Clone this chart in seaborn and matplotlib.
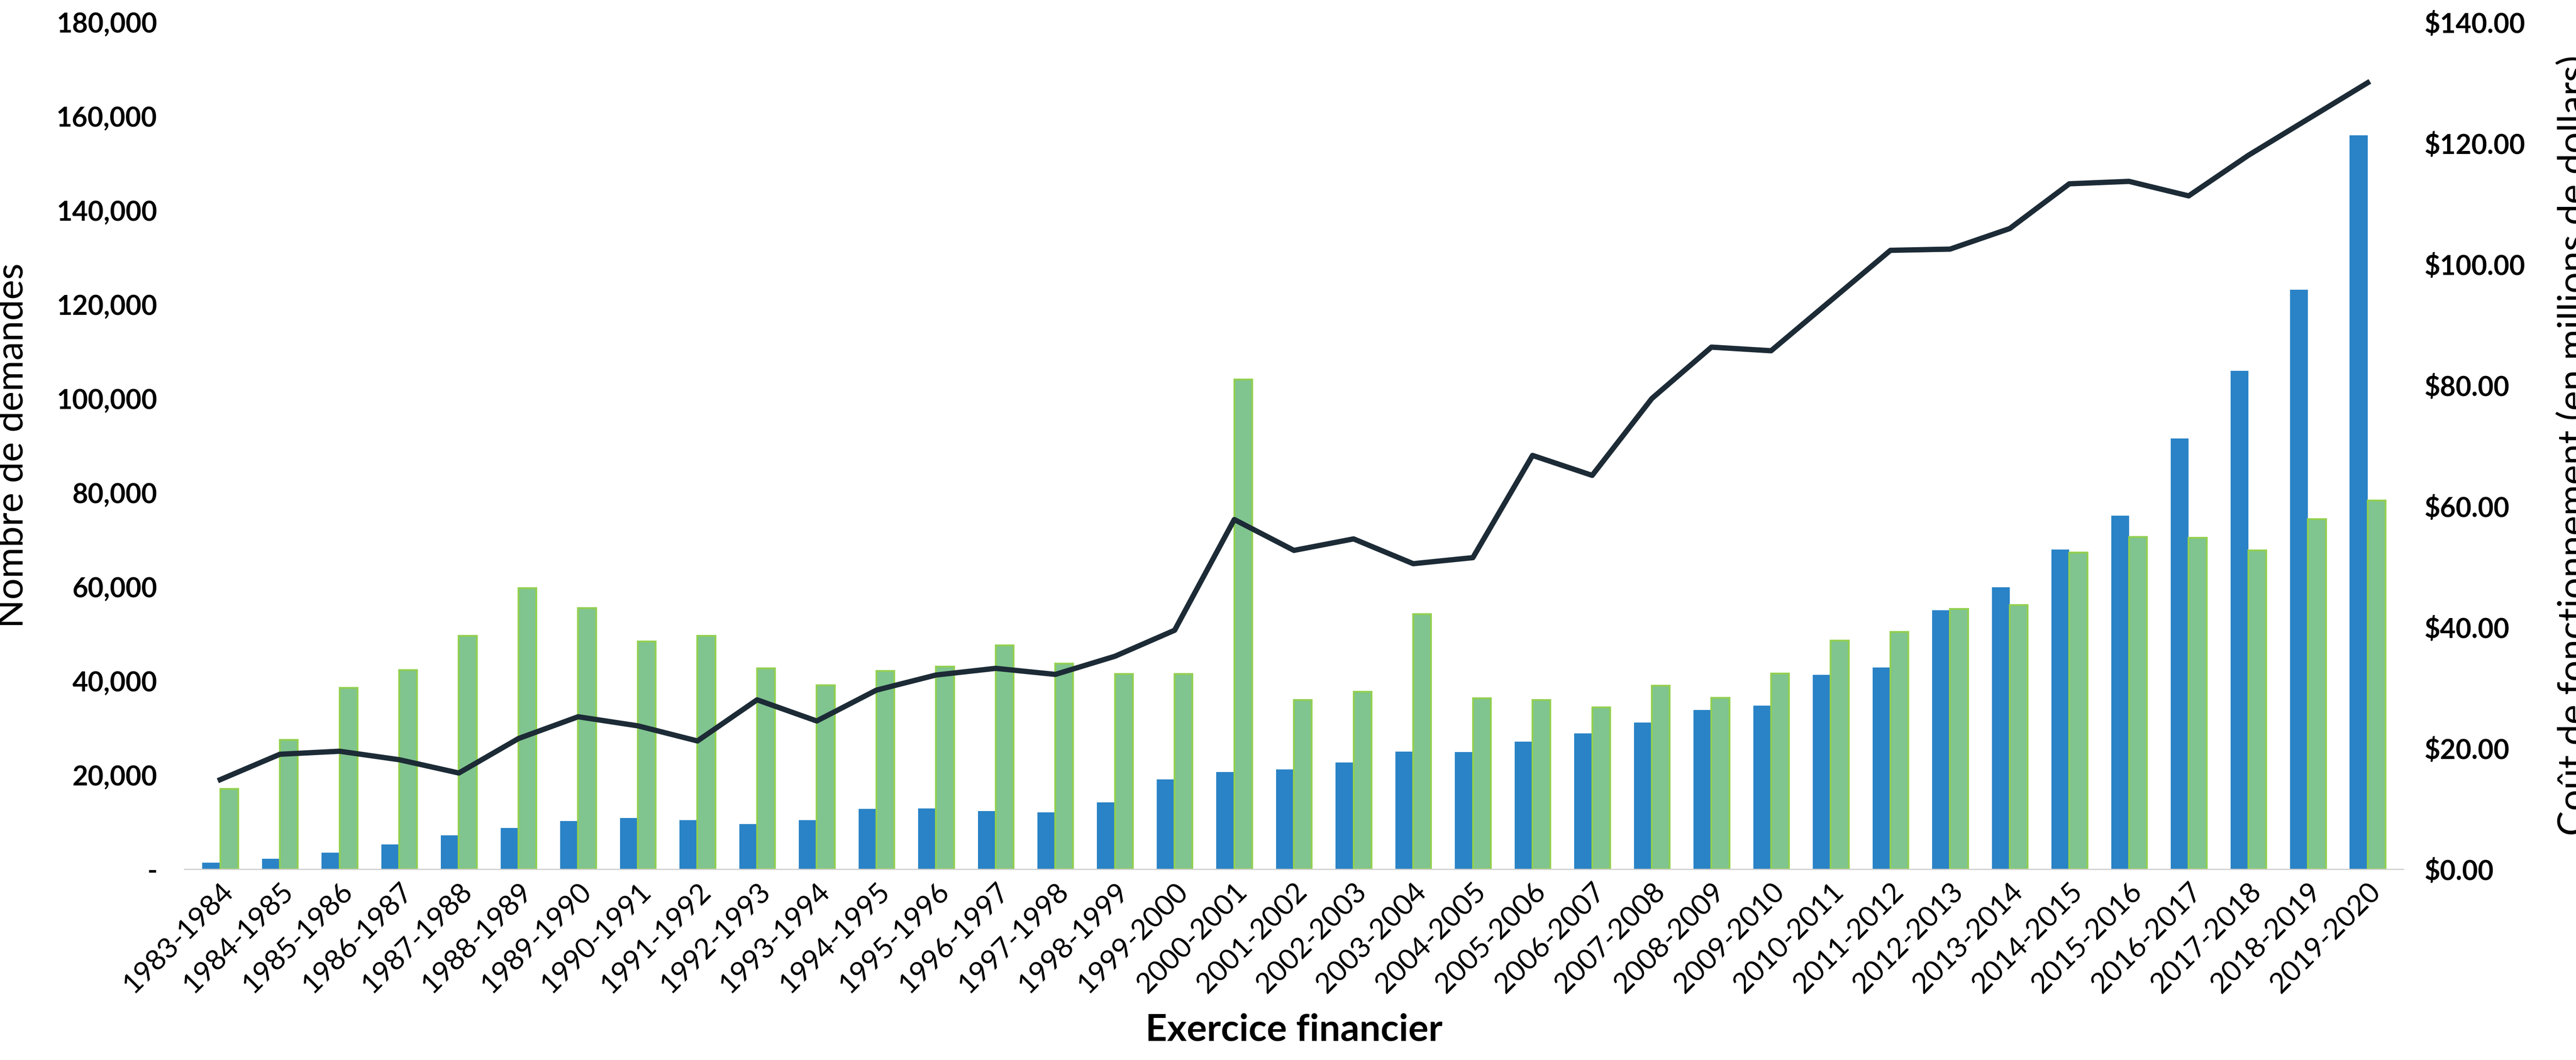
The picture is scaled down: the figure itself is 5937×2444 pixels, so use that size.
import numpy as np
import pandas as pd
import matplotlib
matplotlib.use("Agg")
import matplotlib.pyplot as plt
from matplotlib.ticker import FuncFormatter
import seaborn as sns

years = [f"{y}-{y + 1}" for y in range(1983, 2020)]

blue_vals = [1.4, 2.2, 3.5, 5.3, 7.2, 8.8, 10.2, 10.9, 10.4, 9.6, 10.4, 12.8, 12.9,
             12.4, 12.1, 14.2, 19.1, 20.7, 21.2, 22.7, 25.0, 24.9, 27.1, 28.9, 31.2,
             33.8, 34.8, 41.3, 42.9, 55.0, 59.9, 67.9, 75.1, 91.5, 105.9, 123.2, 156.0]
green_vals = [17.1, 27.5, 38.5, 42.3, 49.6, 59.7, 55.5, 48.4, 49.6, 42.7, 39.1, 42.1,
              43.1, 47.6, 43.7, 41.5, 41.5, 104.1, 36.0, 37.7, 54.2, 36.3, 36.0, 34.4,
              39.0, 36.4, 41.6, 48.6, 50.4, 55.3, 56.1, 67.3, 70.6, 70.4, 67.8, 74.4, 78.4]
cost_vals = [14.8, 19.0, 19.5, 18.1, 15.9, 21.6, 25.2, 23.7, 21.2, 28.0, 24.5, 29.6,
             32.1, 33.2, 32.2, 35.2, 39.5, 57.8, 52.7, 54.6, 50.5, 51.5, 68.4, 65.1,
             77.8, 86.3, 85.7, 94.0, 102.3, 102.5, 105.9, 113.3, 113.7, 111.3, 118.0,
             124.0, 130.0]

df = pd.DataFrame({
    "year": years * 2,
    "value": [v * 1000 for v in blue_vals] + [v * 1000 for v in green_vals],
    "series": ["bleu"] * len(years) + ["vert"] * len(years),
})

plt.rcParams["font.family"] = "Lato"
fig = plt.figure(figsize=(23.748, 9.776), dpi=250)
ax = fig.add_axes([0.0716, 0.180, 0.8614, 0.799])

sns.barplot(data=df, x="year", y="value", hue="series", ax=ax, width=0.6,
            palette={"bleu": "#2A83C6", "vert": "#80C48F"}, legend=False,
            saturation=1)
for p in ax.patches[len(years):]:
    p.set_edgecolor("#92D050")
    p.set_linewidth(1.2)

ax.set_ylim(0, 180000)
ax.set_yticks(np.arange(0, 180001, 20000))
ax.yaxis.set_major_formatter(FuncFormatter(lambda v, _: "-" if v == 0 else f"{int(v):,}"))
ax.set_xlim(-0.6, len(years) - 0.4)
ax.set_xlabel("Exercice financier", fontsize=25, fontweight="bold", labelpad=10)
ax.set_ylabel("Nombre de demandes", fontsize=25)
ax.yaxis.set_label_coords(-0.070, 0.5)
ax.tick_params(axis="y", length=0, labelsize=18, pad=18)
ax.tick_params(axis="x", length=0, labelsize=19, pad=6)
for lab in ax.get_yticklabels():
    lab.set_fontweight("bold")
plt.setp(ax.get_xticklabels(), rotation=45, ha="right", rotation_mode="anchor")
for s in ["top", "right", "left"]:
    ax.spines[s].set_visible(False)
ax.spines["bottom"].set_color("#D0D0D0")

ax2 = ax.twinx()
sns.lineplot(x=np.arange(len(years)), y=cost_vals, ax=ax2, color="#1C2B36", linewidth=3.5)
ax2.set_ylim(0, 140)
ax2.set_yticks(np.arange(0, 141, 20))
ax2.yaxis.set_major_formatter(FuncFormatter(lambda v, _: f"${v:.2f}"))
ax2.set_ylabel("Coût de fonctionnement (en millions de dollars)", fontsize=25)
ax2.yaxis.set_label_coords(1.069, 0.5)
ax2.tick_params(axis="y", length=0, labelsize=18, pad=14)
for lab in ax2.get_yticklabels():
    lab.set_fontweight("bold")
for s in ["top", "right", "left", "bottom"]:
    ax2.spines[s].set_visible(False)

fig.savefig("out.png", dpi=250)
